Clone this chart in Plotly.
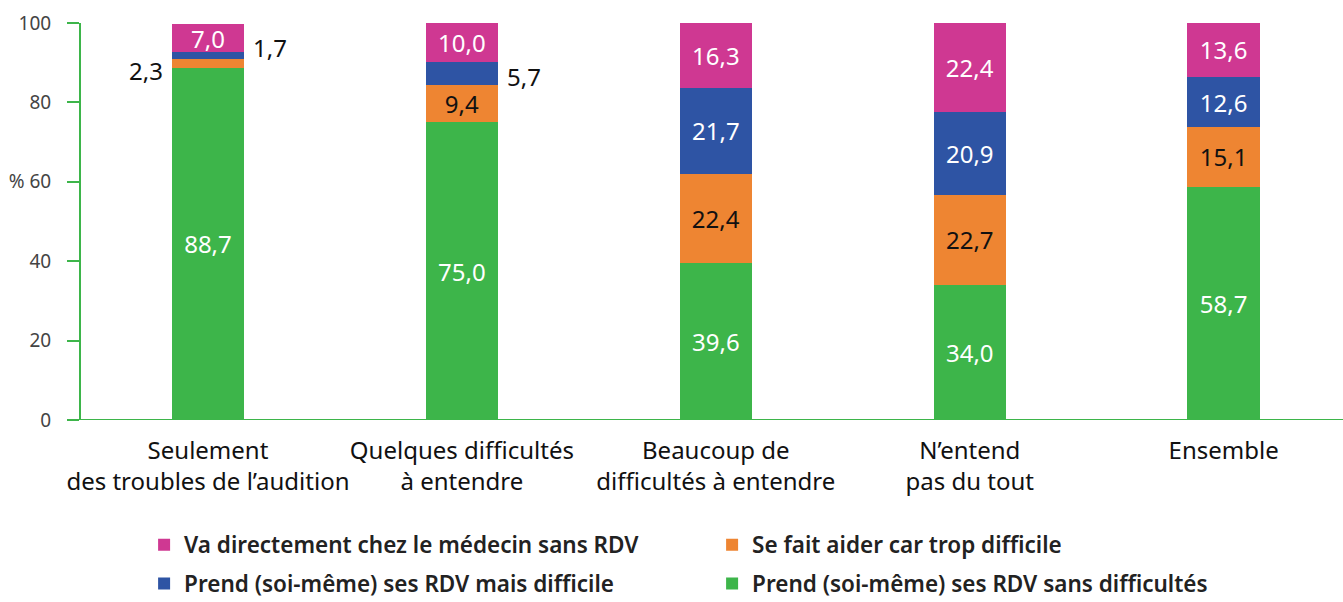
import plotly.graph_objects as go

categories = ["Seulement<br>des troubles de l’audition", "Quelques difficultés<br>à entendre",
              "Beaucoup de<br>difficultés à entendre", "N’entend<br>pas du tout", "Ensemble"]
sans_difficultes = [88.7, 75.0, 39.6, 34.0, 58.7]
se_fait_aider = [2.3, 9.4, 22.4, 22.7, 15.1]
mais_difficile = [1.7, 5.7, 21.7, 20.9, 12.6]
sans_rdv = [7.0, 10.0, 16.3, 22.4, 13.6]
y_ticks = [0, 20, 40, 60, 80, 100]
y_ticktext = ["0", "20", "40", "% 60", "80", "100"]

# (name, values, colour, text colour, legend, rank)
series = [
    ("Prend (soi-même) ses RDV sans difficultés", sans_difficultes, "#3DB54A", "white", "legend2", 2),
    ("Se fait aider car trop difficile", se_fait_aider, "#EE8532", "#111111", "legend", 2),
    ("Prend (soi-même) ses RDV mais difficile", mais_difficile, "#2E54A4", "white", "legend2", 1),
    ("Va directement chez le médecin sans RDV", sans_rdv, "#CF3892", "white", "legend", 1),
]
FONT = "Noto Sans"
MIN_INSIDE = 6.5

fig = go.Figure()
cum = [0.0] * len(categories)
outside = []
for i, (name, vals, color, tcol, leg, rank) in enumerate(series):
    texts = []
    for j, v in enumerate(vals):
        if v >= MIN_INSIDE:
            texts.append(f"{v:.1f}".replace(".", ","))
        else:
            texts.append("")
            outside.append((j, cum[j] + v / 2, v, i))
    fig.add_trace(go.Bar(
        x=categories, y=vals, name=name, marker=dict(color=color, line=dict(width=0)),
        text=texts, texttemplate="%{text}", textposition="inside", insidetextanchor="middle",
        textfont=dict(color=tcol, size=24, family=FONT), constraintext="none",
        width=0.285, legend=leg, legendrank=rank, hoverinfo="skip",
    ))
    cum = [c + v for c, v in zip(cum, vals)]

for j, ymid, v, i in outside:
    left = (i == 1)
    fig.add_annotation(
        x=categories[j], y=ymid, text=f"{v:.1f}".replace(".", ","), showarrow=False,
        xshift=-62 if left else 62, yshift=-7 if left else (8 if j == 0 else -3),
        font=dict(size=24, color="#111111", family=FONT),
    )

fig.add_shape(type="line", xref="paper", yref="y", x0=-0.011, x1=1, y0=0, y1=0,
              line=dict(color="#3DB54A", width=2))

legend_common = dict(orientation="h", x=0.050, xanchor="left", yanchor="middle",
                     entrywidth=523, entrywidthmode="pixels", traceorder="normal",
                     font=dict(size=22.5, color="#222222", family=FONT, weight=600))

fig.update_layout(
    barmode="stack", width=1343, height=602,
    margin=dict(l=81, r=0, t=23, b=182, autoexpand=False),
    paper_bgcolor="white", plot_bgcolor="white",
    separators=", ",
    font=dict(family=FONT, color="#222222"),
    showlegend=True,
    legend=dict(y=-0.315, **legend_common),
    legend2=dict(y=-0.413, **legend_common),
    xaxis=dict(showline=False, showgrid=False, ticks="", range=[-0.5, 4.47], tickangle=0,
               ticklabelstandoff=14,
               tickfont=dict(size=24, color="#111111", family=FONT)),
    yaxis=dict(range=[0, 100], tickvals=y_ticks, ticktext=y_ticktext, showgrid=False,
               zeroline=False, showline=True, linecolor="#3DB54A", linewidth=2,
               ticks="outside", ticklen=12, tickwidth=2, tickcolor="#3DB54A",
               ticklabelstandoff=12,
               tickfont=dict(size=19, color="#444444", family=FONT)),
)

fig.write_html("out.html", config={"displayModeBar": False},
               post_script="document.body.style.margin='0';document.body.style.overflow='hidden';")
